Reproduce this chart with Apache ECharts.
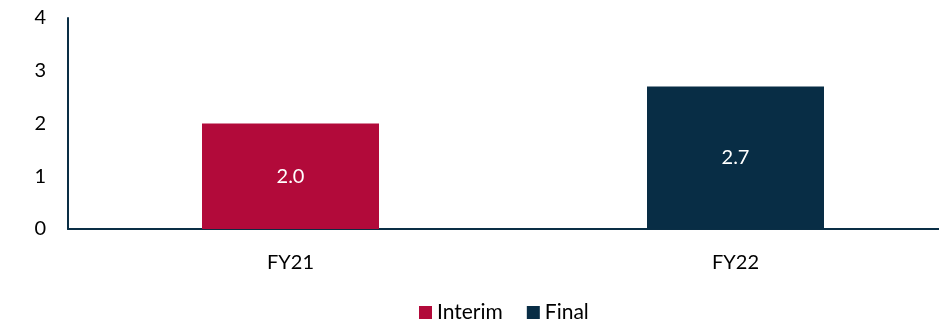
<!DOCTYPE html>
<html><head><meta charset="utf-8">
<script src="https://cdn.jsdelivr.net/npm/echarts@6/dist/echarts.min.js"></script>
<style>html,body{margin:0;padding:0;background:#fff}#c{width:939px;height:322px}</style>
</head><body><div id="c"></div>
<script>
const categories = ['FY21', 'FY22'];
const interim = [2.0, null];
const finalDiv = [null, 2.7];
const yTicks = [0, 1, 2, 3, 4];

const font = 'Lato, "Noto Sans", sans-serif';
const chart = echarts.init(document.getElementById('c'), null, {renderer: 'canvas'});
chart.setOption({
  animation: false,
  textStyle: {fontFamily: font},
  grid: {left: 68, top: 18, width: 890, height: 211, containLabel: false, outerBoundsMode: 'none'},
  legend: {
    top: 297, left: 414, itemWidth: 13, itemHeight: 13, itemGap: 24,
    icon: 'rect',
    textStyle: {fontSize: 21, color: '#000', fontFamily: font},
    data: ['Interim', 'Final']
  },
  xAxis: {
    type: 'category', data: categories,
    axisLine: {lineStyle: {color: '#0a2e45', width: 2}},
    axisTick: {show: false},
    axisLabel: {fontSize: 20, color: '#000', margin: 24}
  },
  yAxis: {
    type: 'value', min: yTicks[0], max: yTicks[yTicks.length - 1], interval: 1,
    axisLine: {show: true, lineStyle: {color: '#0a2e45', width: 2}},
    axisTick: {show: false},
    splitLine: {show: false},
    axisLabel: {fontSize: 20, color: '#000', margin: 22}
  },
  series: [
    {name: 'Interim', type: 'bar', stack: 'a', data: interim, barWidth: 177,
     itemStyle: {color: '#b20a3a'},
     label: {show: true, position: 'inside', color: '#fff', fontSize: 20,
       formatter: p => p.value == null ? '' : p.value.toFixed(1)}},
    {name: 'Final', type: 'bar', stack: 'a', data: finalDiv, barWidth: 177,
     itemStyle: {color: '#082d45'},
     label: {show: true, position: 'inside', color: '#fff', fontSize: 20,
       formatter: p => p.value == null ? '' : p.value.toFixed(1)}}
  ]
});
</script></body></html>
